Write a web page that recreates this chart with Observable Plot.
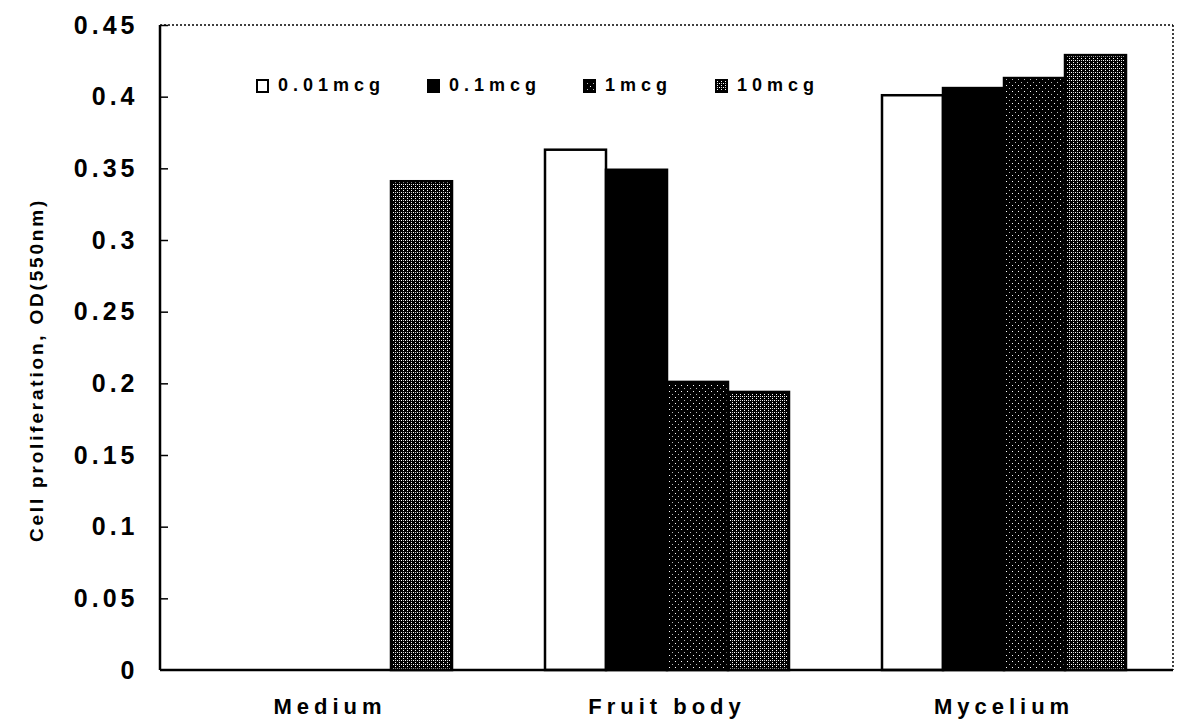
<!DOCTYPE html>
<html><head><meta charset="utf-8">
<script src="https://cdn.jsdelivr.net/npm/d3@7"></script>
<script src="https://cdn.jsdelivr.net/npm/@observablehq/plot@0.6"></script>
<style>
body{margin:0;background:#fff;}
#wrap{position:relative;width:1183px;height:721px;font-family:"Liberation Sans",Arial,sans-serif;font-weight:bold;color:#000;}
#wrap svg.chart g.yt text{letter-spacing:4px;}
#wrap svg.chart g.fxt text{letter-spacing:5px;}
#legend{position:absolute;left:0;top:0;font-size:18px;letter-spacing:5px;}
#legend .item{position:absolute;top:75px;display:flex;align-items:center;white-space:nowrap;}
#legend svg{margin-right:9px;}
#ylabel{position:absolute;left:37px;top:370px;transform:translate(-50%,-50%) rotate(-90deg);white-space:nowrap;font-size:19px;letter-spacing:2.8px;}
</style></head><body>
<svg width="0" height="0" style="position:absolute">
<defs>
<pattern id="pat1" width="6" height="6" patternUnits="userSpaceOnUse">
<rect width="6" height="6" fill="#000"/>
<rect x="1" y="1" width="1" height="1" fill="#fff"/>
<rect x="4" y="4" width="1" height="1" fill="#bbb"/>
</pattern>
<pattern id="pat2" width="4" height="4" patternUnits="userSpaceOnUse">
<rect width="4" height="4" fill="#000"/>
<rect x="0" y="0" width="1" height="1" fill="#fff"/>
<rect x="2" y="2" width="1" height="1" fill="#fff"/>
<rect x="2" y="0" width="1" height="1" fill="#ccc"/>
</pattern>
</defs>
</svg>
<div id="wrap">
<div id="legend"></div>
<div id="ylabel">Cell proliferation, OD(550nm)</div>
</div>
<script>
const groups = ["Medium", "Fruit body", "Mycelium"];
const doses = ["0.01mcg", "0.1mcg", "1mcg", "10mcg"];
const mediumValues = [null, null, null, 0.341];
const fruitBodyValues = [0.363, 0.349, 0.201, 0.194];
const myceliumValues = [0.401, 0.406, 0.413, 0.429];
const yTicks = [0, 0.05, 0.1, 0.15, 0.2, 0.25, 0.3, 0.35, 0.4, 0.45];
const yTickLabels = ["0", "0.05", "0.1", "0.15", "0.2", "0.25", "0.3", "0.35", "0.4", "0.45"];
const doseFills = ["white", "black", "url(#pat1)", "url(#pat2)"];

const seriesByGroup = [mediumValues, fruitBodyValues, myceliumValues];
const data = [];
groups.forEach((g, gi) => doses.forEach((d, di) => {
  const v = seriesByGroup[gi][di];
  if (v != null) data.push({group: g, dose: d, value: v});
}));

const W = 1183, H = 721, mL = 160, mR = 10, mT = 25, mB = 51;
const plot = Plot.plot({
  width: W, height: H,
  marginLeft: mL, marginRight: mR, marginTop: mT, marginBottom: mB,
  style: {fontFamily: "'Liberation Sans', Arial, sans-serif", fontWeight: "bold", background: "white", color: "black"},
  fx: {domain: groups, padding: 0, label: null},
  x: {domain: doses, paddingInner: 0, paddingOuter: 0.723, axis: null},
  y: {domain: [0, 0.45], axis: null},
  color: {domain: doses, range: doseFills},
  marks: [
    Plot.barY(data, {fx: "group", x: "dose", y: "value", fill: "dose", stroke: "black", strokeWidth: 2.5}),
    Plot.axisY({ticks: yTicks, tickSize: 0, tickPadding: 23, fontSize: 25, label: null, className: "yt",
      tickFormat: d => yTickLabels[yTicks.indexOf(d)]}),
    Plot.axisY({ticks: yTicks.slice(1), tickSize: 7, dx: 7, strokeWidth: 1.5, label: null, tickFormat: () => ""}),
    Plot.axisFx({anchor: "bottom", tickSize: 0, tickPadding: 28, fontSize: 22, label: null, className: "fxt"})
  ]
});
plot.classList.add("chart");
const wrap = document.getElementById("wrap");
wrap.insertBefore(plot, wrap.firstChild);
// apply class hooks to axis groups (className option may be applied at root level)
d3.select(plot).selectAll("g[aria-label='y-axis tick label']").classed("yt", true);
d3.select(plot).selectAll("g[aria-label='fx-axis tick label']").classed("fxt", true);

// frame: solid left & bottom, dotted top & right
const ys = plot.scale("y");
const y0 = ys.apply(0), yTop = ys.apply(0.45);
const xL = mL, xR = W - mR;
const svg = d3.select(plot);
const fg = svg.append("g").attr("stroke", "black").attr("fill", "none");
fg.append("line").attr("x1", xL).attr("x2", xR).attr("y1", yTop).attr("y2", yTop).attr("stroke-width", 1.5).attr("stroke-dasharray", "2,2");
fg.append("line").attr("x1", xR).attr("x2", xR).attr("y1", yTop).attr("y2", y0).attr("stroke-width", 1.5).attr("stroke-dasharray", "2,2");
fg.append("line").attr("x1", xL).attr("x2", xR).attr("y1", y0).attr("y2", y0).attr("stroke-width", 2.5);
fg.append("line").attr("x1", xL).attr("x2", xL).attr("y1", yTop).attr("y2", y0).attr("stroke-width", 2.5);

// legend
const legendLeft = [256, 427, 583, 715];
const legend = document.getElementById("legend");
doses.forEach((d, i) => {
  const item = document.createElement("div");
  item.className = "item";
  item.style.left = legendLeft[i] + "px";
  item.innerHTML = `<svg width="13" height="14"><rect x="1" y="1" width="11" height="12" fill="${doseFills[i]}" stroke="black" stroke-width="2"/></svg><span>${d}</span>`;
  legend.appendChild(item);
});
</script>
</body></html>
